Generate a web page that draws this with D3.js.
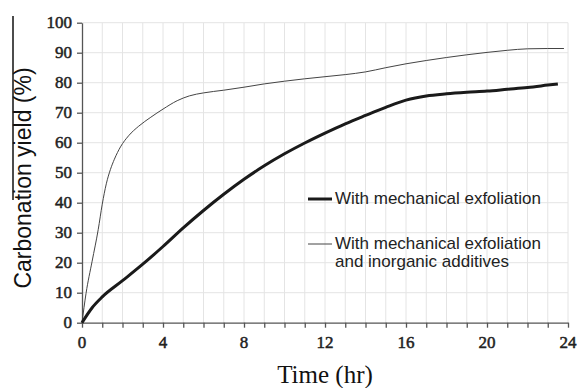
<!DOCTYPE html>
<html>
<head>
<meta charset="utf-8">
<script src="https://cdn.jsdelivr.net/npm/d3@7"></script>
<style>
    html, body { margin: 0; padding: 0; background: #fff; }
</style>
</head>
<body>
<div id="chart"></div>
<script>
// series (time in hr, yield in %)
const exfTime = [0, 0.5, 1, 2, 3, 4, 5, 6, 7, 8, 9, 10, 11, 12, 13, 14, 15, 16, 17, 18, 19, 20, 21, 22, 23, 23.5]
const exfYield = [0, 5, 8.6, 14, 19.5, 25.4, 31.6, 37.4, 42.8, 47.8, 52.3, 56.3, 59.9, 63.2, 66.3, 69.1, 71.8, 74.2, 75.6, 76.3, 76.8, 77.2, 77.8, 78.4, 79.2, 79.6]

const addTime = [0, 0.2, 0.5, 0.8, 1.0, 1.2, 1.4, 1.6, 1.9, 2.3, 2.8, 3.4, 4, 4.7, 5.3, 6, 7, 8, 9, 10, 11, 12, 13, 14, 15, 16, 17, 18, 19, 20, 21, 22, 23, 23.8]
const addYield = [0, 9.8, 20.5, 31, 39.5, 46.3, 51, 54.5, 58.6, 62.3, 65.5, 68.5, 71.2, 74, 75.6, 76.6, 77.5, 78.5, 79.6, 80.5, 81.3, 82, 82.7, 83.6, 85, 86.3, 87.4, 88.4, 89.3, 90.1, 90.8, 91.3, 91.4, 91.4]

const xTicks = [0, 4, 8, 12, 16, 20, 24]
const yTicks = [0, 10, 20, 30, 40, 50, 60, 70, 80, 90, 100]
const legendLabels = [
    ["With mechanical exfoliation"],
    ["With mechanical exfoliation", "and inorganic additives"],
]

const width = 578
const height = 388
const plotLeft = 82, plotRight = 568, plotTop = 22.7, plotBottom = 322.7

const svg = d3.select("#chart")
    .append("svg")
    .attr("width", width)
    .attr("height", height)

const x = d3.scaleLinear().domain([0, 24]).range([plotLeft, plotRight])
const y = d3.scaleLinear().domain([0, 100]).range([plotBottom, plotTop])

// grid
const grid = svg.append("g").attr("stroke", "#e4e4e4").attr("stroke-width", 1)
grid.selectAll("line.v")
    .data(d3.range(1, 25))
    .join("line")
    .attr("class", "v")
    .attr("x1", (d) => x(d)).attr("x2", (d) => x(d))
    .attr("y1", plotTop).attr("y2", plotBottom)
grid.selectAll("line.h")
    .data(yTicks.slice(1))
    .join("line")
    .attr("class", "h")
    .attr("x1", plotLeft).attr("x2", plotRight)
    .attr("y1", (d) => y(d)).attr("y2", (d) => y(d))

// axes
const xAxis = svg.append("g")
    .attr("transform", `translate(0,${plotBottom})`)
    .call(d3.axisBottom(x).tickValues(d3.range(0, 25)).tickSize(5).tickSizeOuter(0).tickFormat(""))
xAxis.select(".domain").attr("stroke", "#555").attr("stroke-width", 1.3)
xAxis.selectAll(".tick line").attr("stroke", "#555").attr("stroke-width", 1.3)

const serif = "'Liberation Serif', 'Times New Roman', serif"
const sans = "'Liberation Sans', Arial, sans-serif"

svg.append("g")
    .selectAll("text")
    .data(xTicks)
    .join("text")
    .attr("x", (d) => x(d))
    .attr("y", 348)
    .attr("text-anchor", "middle")
    .attr("font-family", serif)
    .attr("font-size", 17)
    .attr("fill", "#222")
    .attr("stroke", "#222")
    .attr("stroke-width", 0.5)
    .text((d) => d)

const yAxis = svg.append("g")
    .attr("transform", `translate(${plotLeft},0)`)
    .call(d3.axisLeft(y).tickValues(yTicks).tickSize(5).tickSizeOuter(0).tickFormat(""))
yAxis.select(".domain").attr("stroke", "#555").attr("stroke-width", 1.3)
yAxis.selectAll(".tick line").attr("stroke", "#555").attr("stroke-width", 1.3)

svg.append("g")
    .selectAll("text")
    .data(yTicks)
    .join("text")
    .attr("x", 72)
    .attr("y", (d) => y(d) + 5.5)
    .attr("text-anchor", "end")
    .attr("font-family", serif)
    .attr("font-size", 17)
    .attr("fill", "#222")
    .attr("stroke", "#222")
    .attr("stroke-width", 0.5)
    .text((d) => d)

// axis titles
svg.append("text")
    .attr("x", 325)
    .attr("y", 383)
    .attr("text-anchor", "middle")
    .attr("font-family", serif)
    .attr("font-size", 25)
    .attr("fill", "#111")
    .text("Time (hr)")

svg.append("text")
    .attr("transform", "translate(31,178) rotate(-90)")
    .attr("text-anchor", "middle")
    .attr("font-family", sans)
    .attr("font-size", 23)
    .attr("fill", "#111")
    .text("Carbonation yield (%)")

// stray rule at the left edge of the figure
svg.append("line")
    .attr("x1", 13).attr("x2", 13)
    .attr("y1", 16).attr("y2", 200)
    .attr("stroke", "#111")
    .attr("stroke-width", 1.5)

// series
const line = d3.line()
    .x((d) => x(d[0]))
    .y((d) => y(d[1]))
    .curve(d3.curveMonotoneX)

svg.append("path")
    .datum(d3.zip(addTime, addYield))
    .attr("fill", "none")
    .attr("stroke", "#444")
    .attr("stroke-width", 1)
    .attr("d", line)

svg.append("path")
    .datum(d3.zip(exfTime, exfYield))
    .attr("fill", "none")
    .attr("stroke", "#1a1a1a")
    .attr("stroke-width", 3)
    .attr("d", line)

// legend
const legendY = [199, 244]
const legendWidths = [3, 1]
const legendColors = ["#1a1a1a", "#444"]
const legend = svg.append("g")
legendLabels.forEach((lines, i) => {
    legend.append("line")
        .attr("x1", 308).attr("x2", 332)
        .attr("y1", legendY[i]).attr("y2", legendY[i])
        .attr("stroke", legendColors[i])
        .attr("stroke-width", legendWidths[i])
    lines.forEach((t, j) => {
        legend.append("text")
            .attr("x", 335)
            .attr("y", legendY[i] + 4.5 + j * 18)
            .attr("font-family", sans)
            .attr("font-size", 17)
            .attr("fill", "#222")
            .text(t)
    })
})
</script>
</body>
</html>
